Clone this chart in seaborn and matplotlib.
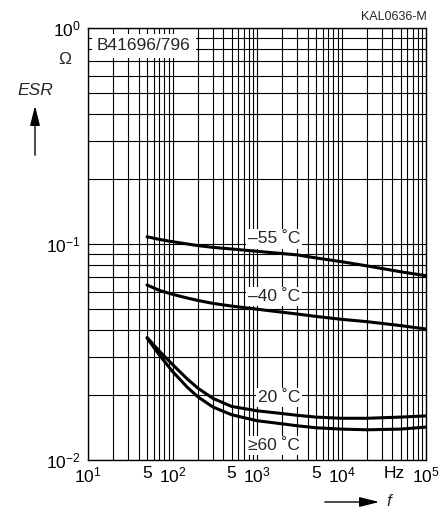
import numpy as np
import pandas as pd
import matplotlib
matplotlib.use("Agg")
import matplotlib.pyplot as plt
import seaborn as sns
from matplotlib.ticker import LogLocator, NullFormatter, FixedLocator, FixedFormatter

# frequency points (Hz)
freq_hz = [50, 70, 100, 150, 200, 300, 500, 1000, 2000, 3000, 5000, 1e4, 2e4, 5e4, 1e5]

# ESR in ohm for each temperature
esr_m55 = [0.108, 0.105, 0.1025, 0.100, 0.0983, 0.0965, 0.0948, 0.0925, 0.0903, 0.089, 0.0862, 0.0828, 0.0792, 0.0744, 0.0713]
esr_m40 = [0.0646, 0.0610, 0.0585, 0.0562, 0.0548, 0.0531, 0.0516, 0.0499, 0.0483, 0.0474, 0.0462, 0.0448, 0.0437, 0.0419, 0.0404]
esr_20 = [0.0369, 0.0319, 0.0277, 0.0237, 0.0215, 0.0193, 0.0177, 0.0169, 0.0164, 0.0161, 0.0158, 0.0156, 0.0156, 0.0158, 0.0160]
esr_60 = [0.0367, 0.0306, 0.0257, 0.0217, 0.0196, 0.0176, 0.0162, 0.0152, 0.0147, 0.0144, 0.0141, 0.0139, 0.0138, 0.0139, 0.0142]

kurven = ["–55 ˚C", "–40 ˚C", "20 ˚C", "≥60 ˚C"]
werte = [esr_m55, esr_m40, esr_20, esr_60]

x_ticks = [10, 50, 100, 500, 1000, 5000, 1e4, 4.2e4, 1e5]
x_labels = ["$10^1$", "5", "$10^2$", "5", "$10^3$", "5", "$10^4$", "Hz", "$10^5$"]
y_ticks = [0.01, 0.1, 1]
y_labels = ["$10^{-2}$", "$10^{-1}$", "$10^0$"]

rows = []
for name, vals in zip(kurven, werte):
    for f, v in zip(freq_hz, vals):
        rows.append({"f": f, "esr": v, "kurve": name})
df = pd.DataFrame(rows)

sns.set_style("white")
plt.rcParams["font.family"] = ["Liberation Sans", "DejaVu Sans"]
plt.rcParams["mathtext.fontset"] = "custom"
plt.rcParams["mathtext.rm"] = "Liberation Sans"
plt.rcParams["mathtext.it"] = "Liberation Sans:italic"

W, H = 447, 509
fig = plt.figure(figsize=(W / 100, H / 100), dpi=100)
ax = fig.add_axes([88 / W, 1 - 460 / H, (426 - 88) / W, (460 - 28) / H])

sns.lineplot(data=df, x="f", y="esr", hue="kurve", palette=["black"] * 4,
             linewidth=2.2, legend=False, ax=ax, zorder=3, estimator=None)

ax.set_xscale("log")
ax.set_yscale("log")
ax.set_xlim(10, 1e5)
ax.set_ylim(0.01, 1)

# Gitter auf jedem Vielfachen 1..9
ax.xaxis.remove_overlapping_locs = False
ax.yaxis.remove_overlapping_locs = False
ax.xaxis.set_minor_locator(LogLocator(base=10, subs=np.arange(1, 10)))
ax.yaxis.set_minor_locator(LogLocator(base=10, subs=np.arange(1, 10)))
ax.xaxis.set_minor_formatter(NullFormatter())
ax.yaxis.set_minor_formatter(NullFormatter())
ax.xaxis.set_major_locator(FixedLocator(x_ticks))
ax.xaxis.set_major_formatter(FixedFormatter(x_labels))
ax.yaxis.set_major_locator(FixedLocator(y_ticks))
ax.yaxis.set_major_formatter(FixedFormatter(y_labels))
ax.grid(which="minor", color="black", linewidth=0.8)
ax.grid(which="major", visible=False)
ax.set_axisbelow(True)
ax.tick_params(which="both", length=0, labelsize=12.5, colors="black")
ax.tick_params(axis="x", pad=4)
ax.tick_params(axis="y", pad=5)
ax.set_xlabel("")
ax.set_ylabel("")
for s in ax.spines.values():
    s.set_color("black")
    s.set_linewidth(1.0)

box = dict(facecolor="white", edgecolor="none", pad=1.5)
label_y = [0.1055, 0.0569, 0.0194, 0.0117]
for name, yy in zip(kurven, label_y):
    ax.text(3230, yy, name, ha="right", va="center", fontsize=12.5, bbox=box, zorder=2)

ax.text(9 / 338, (460 - 46) / 432, "B41696/796", transform=ax.transAxes, ha="left", va="center",
        fontsize=12.5, bbox=dict(facecolor="white", edgecolor="none", pad=3.5), zorder=2)

# Beschriftung ausserhalb der Achsen
fig.text(427 / W, 1 - 17 / H, "KAL0636-M", ha="right", va="center", fontsize=9)
fig.text(65 / W, 1 - 60 / H, "Ω", ha="center", va="center", fontsize=12.5)
fig.text(35 / W, 1 - 90 / H, "ESR", ha="center", va="center", fontsize=12.5, style="italic")
fig.add_artist(matplotlib.patches.FancyArrowPatch(
    (35 / W, 1 - 158 / H), (35 / W, 1 - 103 / H), transform=fig.transFigure,
    arrowstyle="-|>,head_length=12,head_width=3", color="black", linewidth=1.0))
fig.add_artist(matplotlib.patches.FancyArrowPatch(
    (322 / W, 1 - 502 / H), (382 / W, 1 - 502 / H), transform=fig.transFigure,
    arrowstyle="-|>,head_length=12,head_width=3", color="black", linewidth=1.0))
fig.text(389 / W, 1 - 501 / H, "f", ha="center", va="center", fontsize=12.5, style="italic")

fig.savefig("out.png", dpi=100, facecolor="white")
